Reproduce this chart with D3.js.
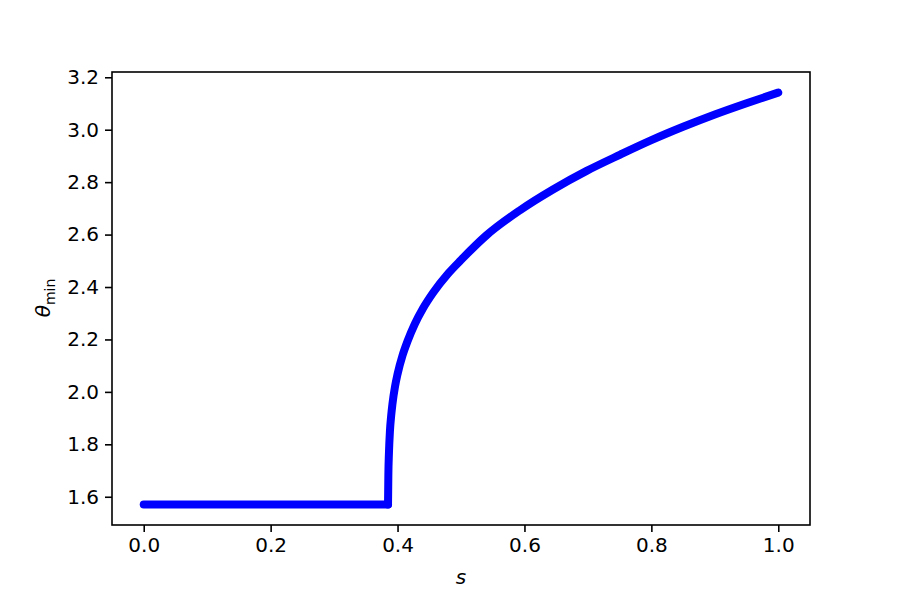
<!DOCTYPE html>
<html>
<head>
<meta charset="utf-8">
<script src="https://cdn.jsdelivr.net/npm/d3@7"></script>
<style>
  body { margin: 0; background: #fff; }
  text { font-family: 'DejaVu Sans', sans-serif; }
</style>
</head>
<body>
<div id="chart"></div>
<script>
'use strict'

// values
const flatS = [0.0, 0.1, 0.2, 0.3, 0.385]
const flatTheta = [1.5708, 1.5708, 1.5708, 1.5708, 1.5708]
const riseS = [0.385, 0.3855, 0.3865, 0.388, 0.390, 0.392, 0.396, 0.400, 0.408, 0.416,
  0.427, 0.440, 0.456, 0.480, 0.500, 0.540, 0.593, 0.645, 0.698, 0.751,
  0.800, 0.850, 0.900, 0.950, 1.000]
const riseTheta = [1.5708, 1.68, 1.77, 1.85, 1.91, 1.955, 2.02, 2.068, 2.14, 2.195,
  2.258, 2.318, 2.378, 2.452, 2.503, 2.597, 2.693, 2.772, 2.843, 2.905,
  2.960, 3.011, 3.058, 3.101, 3.1416]
const xTicks = [0.0, 0.2, 0.4, 0.6, 0.8, 1.0]
const yTicks = [1.6, 1.8, 2.0, 2.2, 2.4, 2.6, 2.8, 3.0, 3.2]

const chart_it = function(){
  const width = 900
  const height = 600
  const left = 112, right = 810, top = 72, bottom = 525

  const svg = d3.select('#chart')
    .append('svg')
    .attr('width', width)
    .attr('height', height)

  const x = d3.scaleLinear()
    .domain([-0.05, 1.05])
    .range([left, right])
  const yMin = Math.PI / 2, yMax = Math.PI
  const yr = yMax - yMin
  const y = d3.scaleLinear()
    .domain([yMin - 0.05 * yr, yMax + 0.05 * yr])
    .range([bottom, top])

  const line = d3.line()
    .x(d => x(d[0]))
    .y(d => y(d[1]))
    .curve(d3.curveMonotoneX)

  const flat = flatS.map((s, i) => [s, flatTheta[i]])
  const rise = riseS.map((s, i) => [s, riseTheta[i]])

  for (const pts of [flat, rise]) {
    svg.append('path')
      .attr('d', line(pts))
      .attr('fill', 'none')
      .attr('stroke', '#0000ff')
      .attr('stroke-width', 8)
      .attr('stroke-linecap', 'round')
      .attr('stroke-linejoin', 'round')
  }

  const xAxis = d3.axisBottom(x)
    .tickValues(xTicks)
    .tickFormat(d3.format('.1f'))
    .tickSizeOuter(0)
    .tickSize(7)
    .tickPadding(6)
  const yAxis = d3.axisLeft(y)
    .tickValues(yTicks)
    .tickFormat(d3.format('.1f'))
    .tickSizeOuter(0)
    .tickSize(7)
    .tickPadding(6)

  const gx = svg.append('g')
    .attr('transform', 'translate(0,' + bottom + ')')
    .call(xAxis)
  const gy = svg.append('g')
    .attr('transform', 'translate(' + left + ',0)')
    .call(yAxis)

  for (const g of [gx, gy]) {
    g.select('.domain').remove()
    g.selectAll('line').attr('stroke', '#000').attr('stroke-width', 1.6)
    g.selectAll('text')
      .attr('fill', '#000')
      .style('font-size', '20px')
      .style('font-family', "'DejaVu Sans', sans-serif")
  }

  svg.append('rect')
    .attr('x', left)
    .attr('y', top)
    .attr('width', right - left)
    .attr('height', bottom - top)
    .attr('fill', 'none')
    .attr('stroke', '#000')
    .attr('stroke-width', 1.6)

  svg.append('text')
    .attr('x', (left + right) / 2)
    .attr('y', 584)
    .attr('text-anchor', 'middle')
    .style('font-size', '20px')
    .style('font-style', 'italic')
    .text('s')

  const yl = svg.append('text')
    .attr('transform', 'translate(50,298) rotate(-90)')
    .attr('text-anchor', 'middle')
    .style('font-size', '20px')
  yl.append('tspan').style('font-style', 'italic').text('θ')
  yl.append('tspan').attr('dy', 5).style('font-size', '14px').text('min')
}

chart_it()
</script>
</body>
</html>
